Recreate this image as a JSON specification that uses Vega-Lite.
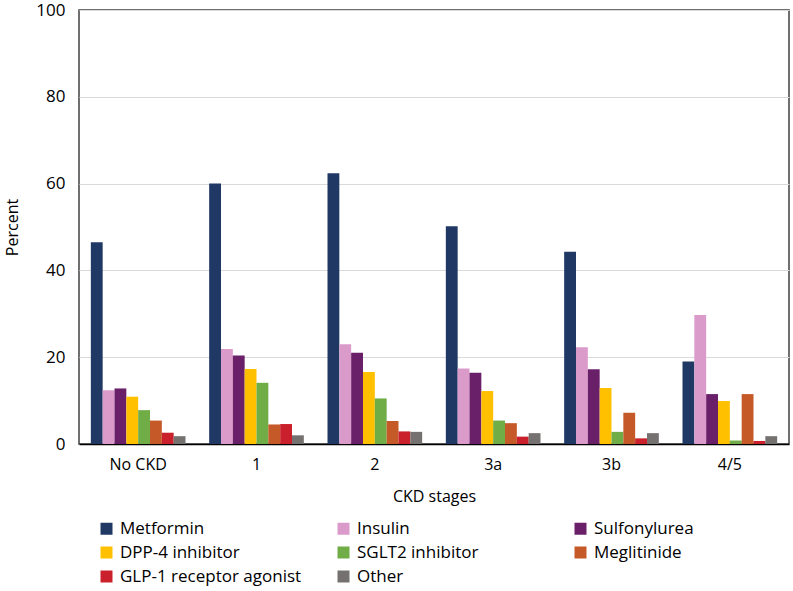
{
  "$schema": "https://vega.github.io/schema/vega-lite/v6.json",
  "width": 710,
  "height": 434,
  "autosize": {"type": "none"},
  "padding": {"left": 79, "top": 10, "right": 4, "bottom": 147},
  "background": "white",
  "config": {
    "font": "Open Sans",
    "view": {"stroke": "#404040", "strokeWidth": 1.5},
    "axis": {"labelFont": "Open Sans", "titleFont": "Open Sans", "labelColor": "#000000", "titleColor": "#000000", "titleFontWeight": "normal"},
    "legend": {"labelFont": "Open Sans"}
  },
  "data": {
    "values": [
      {"stage": "No CKD", "drug": "Metformin", "pct": 46.5},
      {"stage": "No CKD", "drug": "Insulin", "pct": 12.4},
      {"stage": "No CKD", "drug": "Sulfonylurea", "pct": 12.8},
      {"stage": "No CKD", "drug": "DPP-4 inhibitor", "pct": 10.9},
      {"stage": "No CKD", "drug": "SGLT2 inhibitor", "pct": 7.8},
      {"stage": "No CKD", "drug": "Meglitinide", "pct": 5.4},
      {"stage": "No CKD", "drug": "GLP-1 receptor agonist", "pct": 2.6},
      {"stage": "No CKD", "drug": "Other", "pct": 1.8},
      {"stage": "1", "drug": "Metformin", "pct": 60.0},
      {"stage": "1", "drug": "Insulin", "pct": 21.9},
      {"stage": "1", "drug": "Sulfonylurea", "pct": 20.4},
      {"stage": "1", "drug": "DPP-4 inhibitor", "pct": 17.3},
      {"stage": "1", "drug": "SGLT2 inhibitor", "pct": 14.1},
      {"stage": "1", "drug": "Meglitinide", "pct": 4.5},
      {"stage": "1", "drug": "GLP-1 receptor agonist", "pct": 4.6},
      {"stage": "1", "drug": "Other", "pct": 2.0},
      {"stage": "2", "drug": "Metformin", "pct": 62.4},
      {"stage": "2", "drug": "Insulin", "pct": 23.0},
      {"stage": "2", "drug": "Sulfonylurea", "pct": 21.0},
      {"stage": "2", "drug": "DPP-4 inhibitor", "pct": 16.6},
      {"stage": "2", "drug": "SGLT2 inhibitor", "pct": 10.5},
      {"stage": "2", "drug": "Meglitinide", "pct": 5.3},
      {"stage": "2", "drug": "GLP-1 receptor agonist", "pct": 2.9},
      {"stage": "2", "drug": "Other", "pct": 2.8},
      {"stage": "3a", "drug": "Metformin", "pct": 50.2},
      {"stage": "3a", "drug": "Insulin", "pct": 17.4},
      {"stage": "3a", "drug": "Sulfonylurea", "pct": 16.4},
      {"stage": "3a", "drug": "DPP-4 inhibitor", "pct": 12.2},
      {"stage": "3a", "drug": "SGLT2 inhibitor", "pct": 5.4},
      {"stage": "3a", "drug": "Meglitinide", "pct": 4.8},
      {"stage": "3a", "drug": "GLP-1 receptor agonist", "pct": 1.7},
      {"stage": "3a", "drug": "Other", "pct": 2.5},
      {"stage": "3b", "drug": "Metformin", "pct": 44.3},
      {"stage": "3b", "drug": "Insulin", "pct": 22.3},
      {"stage": "3b", "drug": "Sulfonylurea", "pct": 17.2},
      {"stage": "3b", "drug": "DPP-4 inhibitor", "pct": 12.9},
      {"stage": "3b", "drug": "SGLT2 inhibitor", "pct": 2.8},
      {"stage": "3b", "drug": "Meglitinide", "pct": 7.2},
      {"stage": "3b", "drug": "GLP-1 receptor agonist", "pct": 1.3},
      {"stage": "3b", "drug": "Other", "pct": 2.5},
      {"stage": "4/5", "drug": "Metformin", "pct": 19.0},
      {"stage": "4/5", "drug": "Insulin", "pct": 29.7},
      {"stage": "4/5", "drug": "Sulfonylurea", "pct": 11.5},
      {"stage": "4/5", "drug": "DPP-4 inhibitor", "pct": 9.9},
      {"stage": "4/5", "drug": "SGLT2 inhibitor", "pct": 0.8},
      {"stage": "4/5", "drug": "Meglitinide", "pct": 11.5},
      {"stage": "4/5", "drug": "GLP-1 receptor agonist", "pct": 0.7},
      {"stage": "4/5", "drug": "Other", "pct": 1.8}
    ]
  },
  "mark": {"type": "bar"},
  "encoding": {
    "x": {
      "field": "stage",
      "type": "nominal",
      "sort": ["No CKD", "1", "2", "3a", "3b", "4/5"],
      "scale": {"paddingInner": 0.2, "paddingOuter": 0.1},
      "title": "CKD stages",
      "axis": {
        "labelAngle": 0,
        "labelFontSize": 16,
        "labelPadding": 12,
        "ticks": false,
        "domainColor": "#000000",
        "domainWidth": 1.5,
        "titleFontSize": 16,
        "titlePadding": 16
      }
    },
    "xOffset": {
      "field": "drug",
      "type": "nominal",
      "sort": ["Metformin", "Insulin", "Sulfonylurea", "DPP-4 inhibitor", "SGLT2 inhibitor", "Meglitinide", "GLP-1 receptor agonist", "Other"],
      "scale": {"paddingInner": 0}
    },
    "y": {
      "field": "pct",
      "type": "quantitative",
      "scale": {"domain": [0, 100]},
      "title": "Percent",
      "axis": {
        "values": [0, 20, 40, 60, 80, 100],
        "labelFontSize": 17,
        "labelPadding": 14,
        "ticks": false,
        "domain": false,
        "gridColor": "#D9D9D9",
        "gridWidth": 1,
        "titleFontSize": 16,
        "titlePadding": 15
      }
    },
    "color": {
      "field": "drug",
      "type": "nominal",
      "sort": ["Metformin", "Insulin", "Sulfonylurea", "DPP-4 inhibitor", "SGLT2 inhibitor", "Meglitinide", "GLP-1 receptor agonist", "Other"],
      "scale": {
        "domain": ["Metformin", "Insulin", "Sulfonylurea", "DPP-4 inhibitor", "SGLT2 inhibitor", "Meglitinide", "GLP-1 receptor agonist", "Other"],
        "range": ["#1F3864", "#DA9BCB", "#6A2068", "#FFC000", "#70AD47", "#C55A28", "#C9202B", "#767171"]
      },
      "legend": {
        "title": null,
        "orient": "none",
        "legendX": 19,
        "legendY": 510,
        "direction": "horizontal",
        "columns": 3,
        "gridAlign": "all",
        "columnPadding": 33,
        "rowPadding": 6,
        "symbolType": "square",
        "symbolSize": 144,
        "symbolStrokeWidth": 0,
        "symbolOffset": 0,
        "labelFontSize": 17,
        "labelColor": "#000000",
        "labelOffset": 5,
        "labelLimit": 300
      }
    }
  }
}
